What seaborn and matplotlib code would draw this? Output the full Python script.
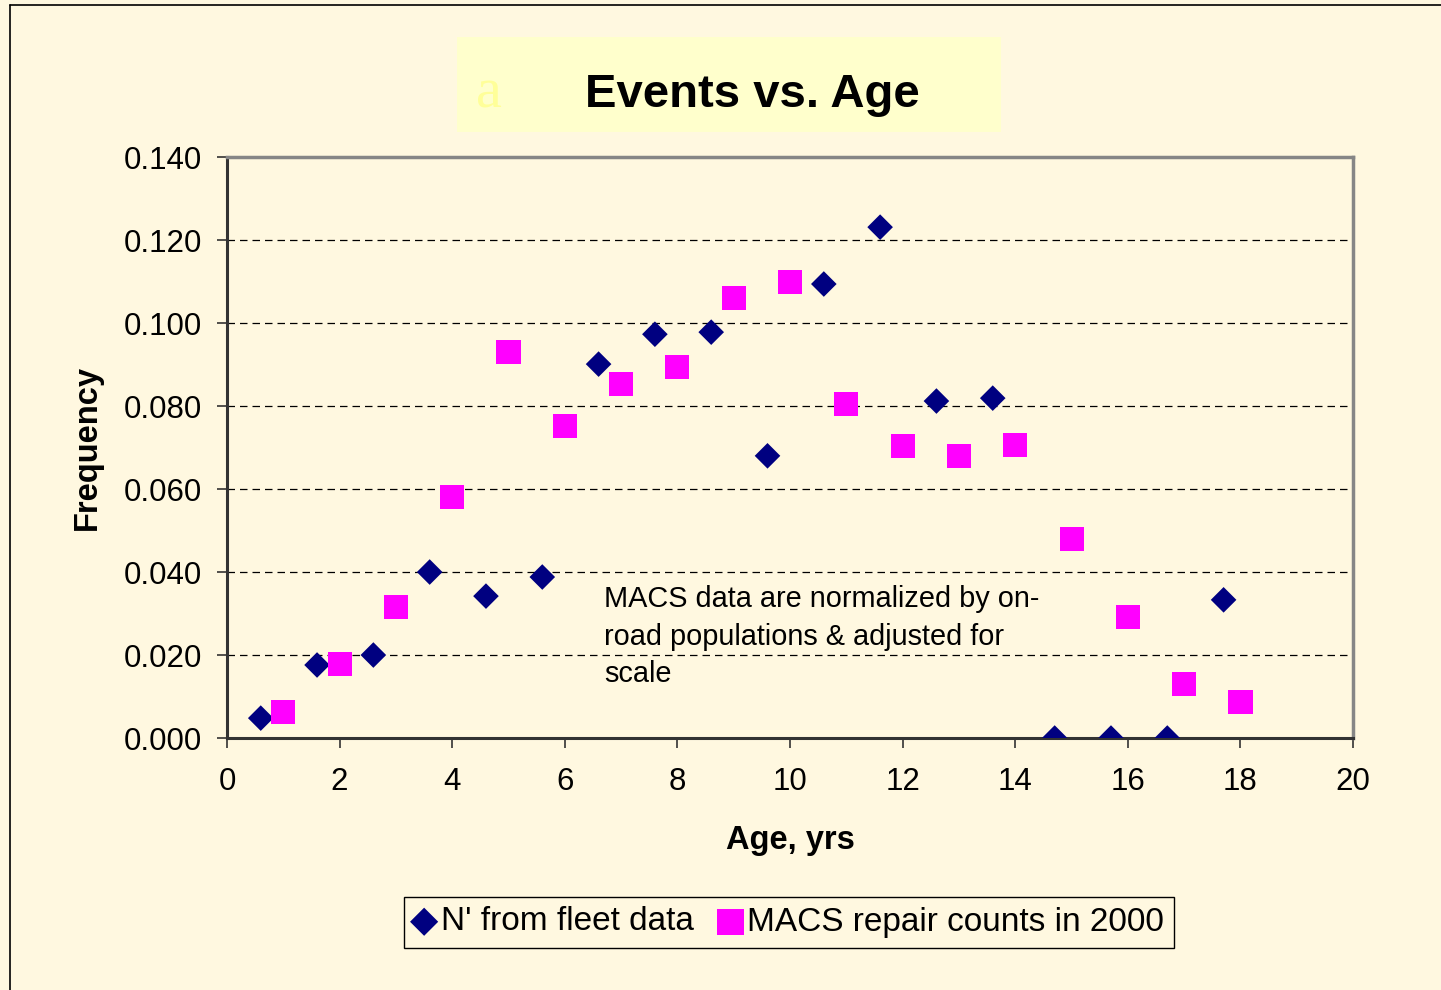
import matplotlib
matplotlib.use("Agg")
import matplotlib.pyplot as plt
import seaborn as sns
import pandas as pd
from matplotlib.patches import Rectangle
from matplotlib.lines import Line2D

# N' from fleet data
fleet_age = [0.6, 1.6, 2.6, 3.6, 4.6, 5.6, 6.6, 7.6, 8.6, 9.6, 10.6, 11.6, 12.6, 13.6, 14.7, 15.7, 16.7, 17.7]
fleet_freq = [0.0048, 0.0176, 0.0200, 0.0400, 0.0342, 0.0388, 0.0901, 0.0973, 0.0978, 0.0680,
              0.1094, 0.1231, 0.0812, 0.0819, 0.0, 0.0, 0.0, 0.0333]

# MACS repair counts in 2000
macs_age = [1, 2, 3, 4, 5, 6, 7, 8, 9, 10, 11, 12, 13, 14, 15, 16, 17, 18]
macs_freq = [0.0063, 0.0178, 0.0316, 0.0581, 0.0930, 0.0752, 0.0853, 0.0894, 0.1060, 0.1099,
             0.0805, 0.0704, 0.0680, 0.0706, 0.0480, 0.0292, 0.0130, 0.0087]

x_ticks = [0, 2, 4, 6, 8, 10, 12, 14, 16, 18, 20]
y_ticks = [0.0, 0.02, 0.04, 0.06, 0.08, 0.10, 0.12, 0.14]

fleet_label = "N' from fleet data"
macs_label = "MACS repair counts in 2000"
note = "MACS data are normalized by on-\nroad populations & adjusted for\nscale"

bg = "#FFF8E0"
sns.set_style("white")
plt.rcParams['font.family'] = ['Liberation Sans', 'DejaVu Sans']
plt.rcParams['text.color'] = 'black'
plt.rcParams['axes.labelcolor'] = 'black'
plt.rcParams['xtick.color'] = 'black'
plt.rcParams['ytick.color'] = 'black'

fleet = pd.DataFrame({"age": fleet_age, "freq": fleet_freq})
macs = pd.DataFrame({"age": macs_age, "freq": macs_freq})

fig = plt.figure(figsize=(14.41, 9.9), dpi=100, facecolor=bg)
ax = fig.add_axes([0.1575, 0.2545, 0.939 - 0.1575, 0.8414 - 0.2545])
ax.set_facecolor(bg)

sns.scatterplot(data=fleet, x="age", y="freq", marker="D", s=170, color="#000080",
                edgecolor="none", ax=ax, zorder=3, label=fleet_label)
sns.scatterplot(data=macs, x="age", y="freq", marker="s", s=300, color="#FF00FF",
                edgecolor="none", ax=ax, zorder=3, label=macs_label)

ax.set_xlim(0, 20)
ax.set_ylim(0, 0.14)
ax.set_xticks(x_ticks)
ax.set_yticks(y_ticks)
ax.set_yticklabels([f"{v:.3f}" for v in y_ticks])
ax.tick_params(axis="both", direction="out", length=7, width=1.2, color="#333333",
               labelsize=22.5, pad=11, left=True, bottom=True)
ax.tick_params(axis="x", pad=14)

for v in y_ticks[1:-1]:
    ax.axhline(v, color="black", lw=0.9, ls=(0, (6, 4)), zorder=1)

for side in ["left", "bottom"]:
    ax.spines[side].set_color("#333333")
    ax.spines[side].set_linewidth(2.2)
for side in ["top", "right"]:
    ax.spines[side].set_color("#868686")
    ax.spines[side].set_linewidth(2.5)

ax.set_xlabel("Age, yrs", fontsize=23.5, fontweight="bold", labelpad=20)
ax.set_ylabel("Frequency", fontsize=23.5, fontweight="bold", labelpad=15)

ax.text(6.7, 0.0368, note, fontsize=20.8, va="top", ha="left", linespacing=1.42, zorder=4)

handles, labels = ax.get_legend_handles_labels()
ax.get_legend().remove()
leg = fig.legend(handles, labels, loc="center", bbox_to_anchor=(789 / 1441, 1 - 922 / 990),
                 ncol=2, fontsize=24, frameon=True, fancybox=False, edgecolor="black",
                 facecolor=bg, framealpha=1, handlelength=0.6, handletextpad=0.2,
                 columnspacing=0.8, borderpad=0.3, markerscale=1.1)
leg.get_frame().set_linewidth(1.0)

# title box
fig.patches.append(Rectangle((457 / 1441, 1 - 132 / 990), 544 / 1441, 95 / 990,
                             transform=fig.transFigure, facecolor="#FFFFCC", edgecolor="none", zorder=0))
fig.text(476 / 1441, 1 - 93 / 990, "a", fontsize=42, color="#FFFF99", family="Liberation Serif",
         va="center", ha="left")
fig.text(752 / 1441, 1 - 95 / 990, "Events vs. Age", fontsize=34, fontweight="bold",
         va="center", ha="center")

# outer border (left and top)
fig.add_artist(Line2D([9.5 / 1441, 9.5 / 1441], [0, 1 - 4.5 / 990], transform=fig.transFigure,
                      color="black", lw=1.2))
fig.add_artist(Line2D([9.5 / 1441, 1], [1 - 4.5 / 990, 1 - 4.5 / 990], transform=fig.transFigure,
                      color="black", lw=1.2))

fig.savefig("out.png", dpi=100, facecolor=bg)
